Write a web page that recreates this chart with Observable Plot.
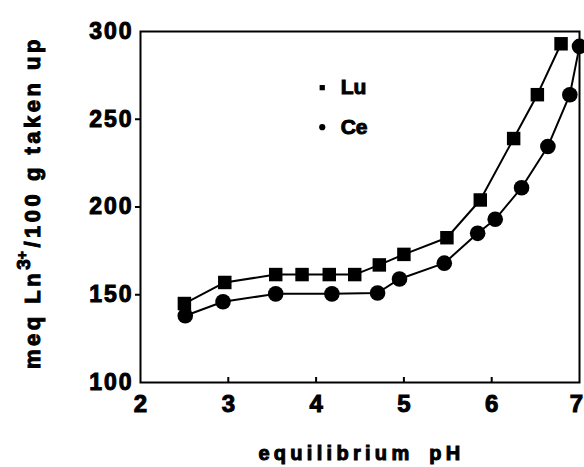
<!DOCTYPE html>
<html>
<head>
<meta charset="utf-8">
<script src="https://cdn.jsdelivr.net/npm/d3@7"></script>
<script src="https://cdn.jsdelivr.net/npm/@observablehq/plot@0.6"></script>
<style>
  html, body { margin: 0; padding: 0; background: white; }
  #chart svg { display: block; }
  g[aria-label="y-axis tick label"] text { letter-spacing: 2px; }
  g[aria-label="legend-text"] text { letter-spacing: 6px; }
</style>
</head>
<body>
<div id="chart"></div>
<script>
// ---- data ----
const luPH  = [2.50, 2.96, 3.54, 3.84, 4.15, 4.44, 4.72, 5.00, 5.49, 5.87, 6.25, 6.52, 6.79];
const luVal = [145, 157, 161.5, 161.5, 161.5, 161.5, 167, 173, 182.5, 204, 239, 264, 293];

const cePH  = [2.51, 2.94, 3.54, 4.18, 4.70, 4.95, 5.46, 5.84, 6.04, 6.34, 6.64, 6.89, 7.00];
const ceVal = [138, 146, 150.5, 150.5, 151, 159, 168, 185, 193, 211, 234.5, 264, 291.5];

const xTicks = [2, 3, 4, 5, 6];
const xEdgeTicks = [7];
const xInnerTicks = [3, 4, 5, 6];
const yTicks = [100, 150, 200, 250, 300];
const yOuterTicks = [150, 200, 250];

const legendNames = ["Lu", "Ce"];
const legendSymbols = ["square", "circle"];
const legendPH = [4.07, 4.07];
const legendTextPH = [4.28, 4.28];
const legendVal = [268, 245.5];

const xLabel = "equilibrium pH";

// ---- build tables ----
const lu = luPH.map((x, i) => ({x, y: luVal[i]}));
const ce = cePH.map((x, i) => ({x, y: ceVal[i]}));
const legend = legendNames.map((name, i) => ({name, symbol: legendSymbols[i], x: legendPH[i], tx: legendTextPH[i], y: legendVal[i]}));

const W = 584, H = 467;
const mL = 140, mR = 5, mT = 31, mB = 85;
const plotH = H - mT - mB;

const chart = Plot.plot({
  width: W,
  height: H,
  marginLeft: mL,
  marginRight: mR,
  marginTop: mT,
  marginBottom: mB,
  x: {domain: [2, 7]},
  y: {domain: [100, 300]},
  style: {fontFamily: "'Liberation Sans', Arial, sans-serif", fontWeight: "bold", background: "white", color: "black", overflow: "visible"},
  marks: [
    Plot.axisY(yTicks, {tickSize: 0, tickPadding: 7, fontSize: 23, label: null}),
    Plot.axisY(yOuterTicks, {tickSize: 5, tickFormat: () => "", strokeWidth: 2, label: null}),
    Plot.axisX(xTicks, {tickSize: 0, tickPadding: 12, fontSize: 24, label: null}),
    Plot.axisX(xEdgeTicks, {tickSize: 0, tickPadding: 12, fontSize: 24, label: null, dx: -3}),
    Plot.tickX(xInnerTicks, {x: d => d, insetTop: plotH - 5, stroke: "black", strokeWidth: 2}),
    Plot.frame({stroke: "black", strokeWidth: 2}),
    Plot.line(lu, {x: "x", y: "y", stroke: "black", strokeWidth: 2}),
    Plot.line(ce, {x: "x", y: "y", stroke: "black", strokeWidth: 2}),
    Plot.dot(lu, {x: "x", y: "y", symbol: "square", r: 7.6, fill: "black", stroke: "none"}),
    Plot.dot(ce, {x: "x", y: "y", symbol: "circle", r: 7.8, fill: "black", stroke: "none"}),
    Plot.dot(legend, {x: "x", y: "y", symbol: "symbol", r: d => d.symbol === "square" ? 7 : 7.6, fill: "black", stroke: "none"}),
    Plot.text(legend, {x: "tx", y: "y", text: "name", textAnchor: "start", fontSize: 21, fontWeight: "bold", ariaLabel: "legend-text"})
  ]
});

const svg = d3.select(chart);
svg.style("overflow", "hidden");

// x-axis title
svg.append("text")
  .attr("x", (mL + W - mR) / 2 + 2)
  .attr("y", 460)
  .attr("text-anchor", "middle")
  .attr("font-size", 20)
  .attr("letter-spacing", "4.3px")
  .attr("word-spacing", "6px")
  .attr("fill", "black")
  .text(xLabel);

// y-axis title with superscript
const yl = svg.append("text")
  .attr("transform", "translate(40,369) rotate(-90)")
  .attr("text-anchor", "start")
  .attr("font-size", 22)
  .attr("letter-spacing", "3.5px")
  .attr("fill", "black");
yl.append("tspan").text("meq Ln");
yl.append("tspan").attr("font-size", 19).attr("dy", -10).attr("letter-spacing", "0px").text("3");
yl.append("tspan").attr("font-size", 14).attr("dy", -3).text("+");
yl.append("tspan").attr("dy", 13).text("/100 g taken up");

// heavier lettering, like the reference
svg.selectAll("text")
  .attr("font-weight", "bold")
  .style("stroke", "black")
  .style("stroke-width", "1px")
  .style("paint-order", "normal");

document.getElementById("chart").appendChild(chart);
</script>
</body>
</html>
